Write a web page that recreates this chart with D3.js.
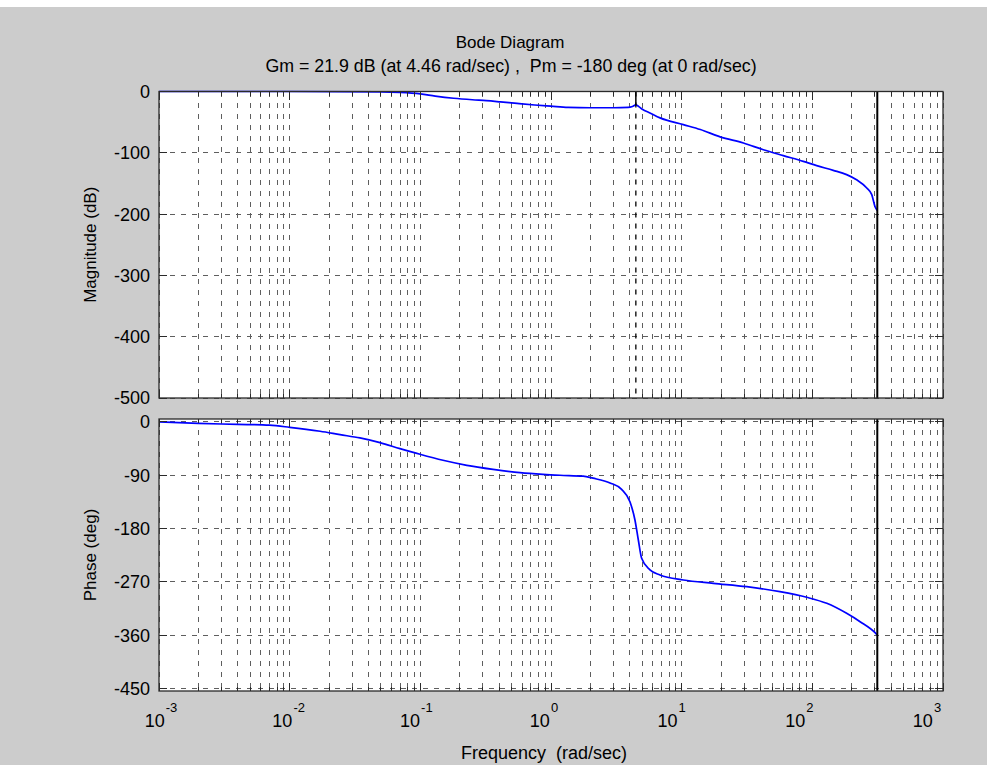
<!DOCTYPE html>
<html><head><meta charset="utf-8">
<script src="https://cdn.jsdelivr.net/npm/d3@7"></script>
<style>
body{margin:0;background:#cccccc}
svg{display:block}
text{font-family:"Liberation Sans",Arial,Helvetica,sans-serif;fill:#000}
</style>
</head><body>
<svg id="chart" width="987" height="765"></svg>
<script>
// ---------- data ----------
const titleLine1 = "Bode Diagram";
const titleLine2 = "Gm = 21.9 dB (at 4.46 rad/sec) ,  Pm = -180 deg (at 0 rad/sec)";
const xLabel = "Frequency  (rad/sec)";
const magLabel = "Magnitude (dB)";
const phaseLabel = "Phase (deg)";
const freqDomain = [1e-3, 1e3];
const xTickExponents = ["-3", "-2", "-1", "0", "1", "2", "3"];
const magTicks = [0, -100, -200, -300, -400, -500];
const phaseTicks = [0, -90, -180, -270, -360, -450];
const gmFreq = 4.46, gmDb = -21.9;
const nyquistFreq = Math.PI / 0.01;

const magFreq = [0.001, 0.01, 0.05, 0.07, 0.1, 0.13, 0.18, 0.25, 0.32, 0.41, 0.55, 0.75, 1.0, 1.35, 2.0, 3.0, 3.9, 4.2, 4.46, 4.66, 5.0, 5.72, 6.83, 10.3, 13.9, 19.7, 29.7, 42.2, 60, 85.3, 108, 144.5, 183, 218, 261, 285, 302, 314.16];
const magDb   = [0, 0, -0.5, -1.5, -4, -7.5, -11, -13.5, -15, -17, -19.5, -22, -24, -26, -26.5, -26.5, -26, -24.5, -21.9, -24, -29, -35, -43, -54, -62, -74, -84, -95, -104.6, -114, -121, -128.6, -135.6, -144, -157.4, -168.3, -188, -194];

const phaseFreq = [0.001, 0.002, 0.004, 0.007, 0.01, 0.0171, 0.0243, 0.0345, 0.0491, 0.0698, 0.0993, 0.149, 0.227, 0.36, 0.579, 0.868, 1.17, 1.76, 2.1, 2.83, 3.47, 4.02, 4.39, 4.66, 4.94, 5.72, 6.83, 10.3, 17.5, 31.5, 56.5, 90.6, 129, 183, 232, 302, 314.16];
const phaseDeg  = [0, -2.5, -4, -5.5, -9, -15.7, -21.4, -27, -35, -45, -54.6, -64.7, -73.2, -80, -85.6, -88.5, -90, -91.5, -95, -103, -113.8, -134.7, -165.6, -199.4, -230.3, -250, -258.5, -267, -272.6, -278.3, -286.7, -296.2, -306.4, -323.3, -337.4, -356, -360];

// ---------- layout ----------
const W = 987, H = 765;
const svg = d3.select("#chart");
svg.append("rect").attr("width", W).attr("height", H).attr("fill", "#cccccc");
svg.append("rect").attr("width", W).attr("height", 7).attr("fill", "#ffffff");

const x = d3.scaleLog().domain(freqDomain).range([159, 943]);
// exponent labels in the original drift slightly from the tick positions
const labelX = d3.scaleLog().domain(freqDomain).range([161, 927]);
const yMag = d3.scaleLinear().domain([0, -500]).range([91.5, 398]);
const yPh = d3.scaleLinear().domain([5, -454.5]).range([419, 691]);

const gridColor = "#5e5e5e";
const dash = "5,6";
const freqTicks = x.ticks();

function isMajor(f) {
  const l = Math.log10(f);
  return Math.abs(l - Math.round(l)) < 1e-9;
}

function drawPanel(y, ticks, freqs, vals) {
  const [top, bottom] = y.range();
  const [x0, x1] = x.range();
  const g = svg.append("g");
  g.append("rect").attr("x", x0).attr("y", top).attr("width", x1 - x0).attr("height", bottom - top).attr("fill", "#ffffff");
  g.selectAll(".vg").data(freqTicks).join("line")
    .attr("x1", d => x(d)).attr("x2", d => x(d)).attr("y1", top).attr("y2", bottom)
    .attr("stroke", gridColor).attr("stroke-width", 1).attr("stroke-dasharray", dash)
    .attr("shape-rendering", "crispEdges");
  g.selectAll(".hg").data(ticks).join("line")
    .attr("x1", x0).attr("x2", x1).attr("y1", d => y(d)).attr("y2", d => y(d))
    .attr("stroke", gridColor).attr("stroke-width", 1).attr("stroke-dasharray", dash)
    .attr("shape-rendering", "crispEdges");
  const line = d3.line().x((d, i) => x(freqs[i])).y(d => y(d)).curve(d3.curveMonotoneX);
  g.append("path").attr("d", line(vals)).attr("fill", "none").attr("stroke", "#0000ff").attr("stroke-width", 1.7);
  return g;
}

function drawFrame(g, y, ticks) {
  const [top, bottom] = y.range();
  const [x0, x1] = x.range();
  g.append("rect").attr("x", x0).attr("y", top).attr("width", x1 - x0).attr("height", bottom - top)
    .attr("fill", "none").attr("stroke", "#2a2a2a").attr("stroke-width", 1.3);
  freqTicks.forEach(f => {
    const len = isMajor(f) ? 8 : 4;
    g.append("line").attr("x1", x(f)).attr("x2", x(f)).attr("y1", bottom).attr("y2", bottom - len)
      .attr("stroke", "#2a2a2a").attr("stroke-width", 1).attr("shape-rendering", "crispEdges");
    g.append("line").attr("x1", x(f)).attr("x2", x(f)).attr("y1", top).attr("y2", top + len)
      .attr("stroke", "#2a2a2a").attr("stroke-width", 1).attr("shape-rendering", "crispEdges");
  });
  ticks.forEach(t => {
    g.append("line").attr("x1", x0).attr("x2", x0 + 8).attr("y1", y(t)).attr("y2", y(t))
      .attr("stroke", "#2a2a2a").attr("stroke-width", 1).attr("shape-rendering", "crispEdges");
    g.append("line").attr("x1", x1).attr("x2", x1 - 8).attr("y1", y(t)).attr("y2", y(t))
      .attr("stroke", "#2a2a2a").attr("stroke-width", 1).attr("shape-rendering", "crispEdges");
  });
  g.selectAll(".yl").data(ticks).join("text")
    .attr("x", x0 - 9).attr("y", d => y(d)).attr("dy", "0.36em")
    .attr("text-anchor", "end").attr("font-size", 18).attr("fill", "#1a1a1a")
    .text(d => String(d));
}

const gMag = drawPanel(yMag, magTicks, magFreq, magDb);
gMag.append("line").attr("x1", x.range()[0]).attr("x2", x.range()[1]).attr("y1", yMag(0)).attr("y2", yMag(0))
  .attr("stroke", "#000").attr("stroke-width", 1.2).attr("stroke-dasharray", dash);
gMag.append("line").attr("x1", x(gmFreq)).attr("x2", x(gmFreq)).attr("y1", yMag.range()[0]).attr("y2", yMag.range()[1])
  .attr("stroke", "#000").attr("stroke-width", 1.3).attr("stroke-dasharray", dash);
gMag.append("line").attr("x1", x(gmFreq)).attr("x2", x(gmFreq)).attr("y1", yMag(0)).attr("y2", yMag(gmDb))
  .attr("stroke", "#000").attr("stroke-width", 1.5);
gMag.append("line").attr("x1", x(nyquistFreq)).attr("x2", x(nyquistFreq)).attr("y1", yMag.range()[0]).attr("y2", yMag.range()[1])
  .attr("stroke", "#000").attr("stroke-width", 2);
drawFrame(gMag, yMag, magTicks);

const gPh = drawPanel(yPh, phaseTicks, phaseFreq, phaseDeg);
gPh.append("line").attr("x1", x(nyquistFreq)).attr("x2", x(nyquistFreq)).attr("y1", yPh.range()[0]).attr("y2", yPh.range()[1])
  .attr("stroke", "#000").attr("stroke-width", 2);
drawFrame(gPh, yPh, phaseTicks);

// x tick labels (10^n)
xTickExponents.forEach(e => {
  const t = svg.append("text").attr("x", labelX(Math.pow(10, +e))).attr("y", 727)
    .attr("text-anchor", "middle").attr("font-size", 18).attr("fill", "#1a1a1a");
  t.append("tspan").text("10");
  t.append("tspan").attr("font-size", 13).attr("dy", -15).attr("dx", 1).text(e);
});

// titles & labels
svg.append("text").attr("x", 510).attr("y", 48).attr("text-anchor", "middle").attr("font-size", 17).text(titleLine1);
svg.append("text").attr("x", 511).attr("y", 72).attr("text-anchor", "middle").attr("font-size", 17.8)
  .style("white-space", "pre").text(titleLine2);
svg.append("text").attr("x", 544).attr("y", 759).attr("text-anchor", "middle").attr("font-size", 18)
  .style("white-space", "pre").text(xLabel);
const cy1 = (yMag.range()[0] + yMag.range()[1]) / 2;
const cy2 = (yPh.range()[0] + yPh.range()[1]) / 2;
svg.append("text").attr("transform", `translate(96,${cy1}) rotate(-90)`).attr("text-anchor", "middle").attr("font-size", 17).text(magLabel);
svg.append("text").attr("transform", `translate(96,${cy2}) rotate(-90)`).attr("text-anchor", "middle").attr("font-size", 17).text(phaseLabel);
</script>
</body></html>
